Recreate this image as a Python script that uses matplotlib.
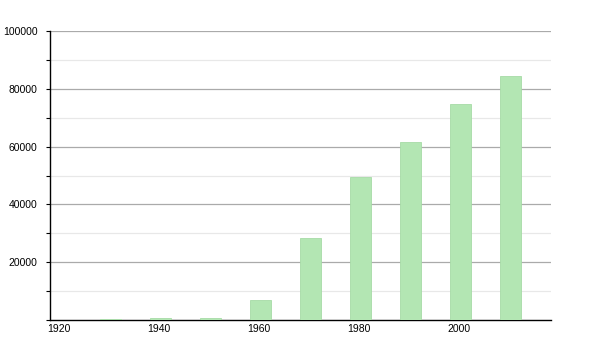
import matplotlib.pyplot as plt
import matplotlib.transforms as mtransforms
from matplotlib.ticker import MultipleLocator

years = [1930, 1940, 1950, 1960, 1970, 1980, 1990, 2000, 2010]
population = [450, 800, 800, 6900, 28300, 49400, 61600, 74700, 84400]
x_ticks = [1920, 1940, 1960, 1980, 2000]

plt.rcParams['font.family'] = ['Liberation Sans', 'DejaVu Sans']

fig = plt.figure(figsize=(6, 3.5), dpi=100)
ax = fig.add_axes([50 / 600, 30 / 350, 501 / 600, 289 / 350])

ax.bar(years, population, width=4.2, align='edge', color='#b3e6b3',
       edgecolor='#a6dba6', linewidth=0.6, zorder=3)

ax.set_xlim(1920, 2020.2)
ax.set_ylim(0, 100000)

ax.yaxis.set_major_locator(MultipleLocator(20000))
ax.yaxis.set_minor_locator(MultipleLocator(10000))
ax.grid(which='major', axis='y', color='#aaaaaa', linewidth=0.9, zorder=1)
ax.grid(which='minor', axis='y', color='#e8e8e8', linewidth=0.9, zorder=1)
ax.set_yticks([20000, 40000, 60000, 80000, 100000])

ax.set_xticks(x_ticks)
ax.set_xticklabels([str(y) for y in x_ticks], ha='left')

ax.tick_params(axis='y', which='major', length=3, width=0.8, pad=6, labelsize=7.5)
ax.tick_params(axis='y', which='minor', length=3, width=0.8)
ax.tick_params(axis='x', length=0, pad=3, labelsize=7.5)

# nudge the x labels a little to the left
shift = mtransforms.ScaledTranslation(-3 / 100, 0, fig.dpi_scale_trans)
for lbl in ax.get_xticklabels():
    lbl.set_transform(lbl.get_transform() + shift)

for side in ['top', 'right']:
    ax.spines[side].set_visible(False)
ax.spines['left'].set_linewidth(1.0)
ax.spines['bottom'].set_linewidth(1.0)

fig.savefig('out.png', dpi=100)
